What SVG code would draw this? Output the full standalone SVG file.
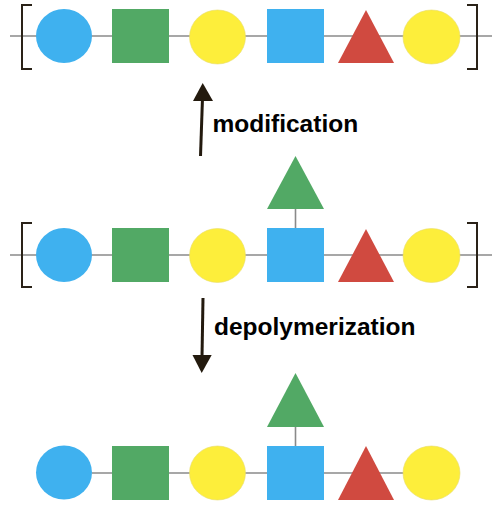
<svg xmlns="http://www.w3.org/2000/svg" width="500" height="517" viewBox="0 0 500 517">
<defs>
<style>
.ln{stroke:#8a8a8a;stroke-width:1.6;fill:none}
.br{stroke:#2a2218;stroke-width:2;fill:none}
.blue{fill:#3fb1ef}
.green{fill:#52a965}
.yellow{fill:#fdee3b;stroke:#e8dc6a;stroke-width:0.6}
.red{fill:#d04a40}
.arr{stroke:#231a0e;stroke-width:3;fill:none}
.head{fill:#231a0e}
.lbl{font-family:"Liberation Sans",Arial,sans-serif;font-weight:bold;font-size:24.5px;fill:#000}
</style>
</defs>
<rect width="500" height="517" fill="#fff"/>
<g id="connectors">
<line class="ln" x1="10" y1="36" x2="492" y2="36"/>
<path class="br" d="M32,5 H22 V69 H32"/>
<path class="br" d="M467,5 H477 V69 H467"/>
<line class="ln" x1="10" y1="255" x2="492" y2="255"/>
<path class="br" d="M32,223 H22 V287 H32"/>
<path class="br" d="M467,223 H477 V287 H467"/>
<line class="ln" x1="295.5" y1="209" x2="295.5" y2="228"/>
<line class="ln" x1="92" y1="473" x2="404" y2="473"/>
<line class="ln" x1="295.5" y1="427" x2="295.5" y2="446"/>
<line class="arr" x1="200.5" y1="156" x2="202.5" y2="98"/>
<path class="head" d="M202.7,83 L213,101 L193,101 Z"/>
<line class="arr" x1="203" y1="298" x2="202" y2="357"/>
<path class="head" d="M201.7,373 L192.5,355 L211.7,355 Z"/>
</g>
<g id="row1">
<ellipse id="r1-blue-circle" class="blue" cx="64" cy="36" rx="28" ry="27"/>
<rect id="r1-green-square" class="green" x="112" y="9" width="57" height="54"/>
<ellipse id="r1-yellow-circle" class="yellow" cx="217.5" cy="37" rx="28" ry="27"/>
<rect id="r1-blue-square" class="blue" x="267" y="9" width="57" height="54"/>
<polygon id="r1-red-triangle" class="red" points="366,10 394,63 338,63"/>
<ellipse id="r1-yellow-circle2" class="yellow" cx="431.5" cy="37" rx="28.5" ry="27"/>
</g>
<g id="row2">
<ellipse id="r2-blue-circle" class="blue" cx="64" cy="255" rx="28" ry="27"/>
<rect id="r2-green-square" class="green" x="112" y="228" width="57" height="54"/>
<ellipse id="r2-yellow-circle" class="yellow" cx="217.5" cy="255.5" rx="28" ry="27"/>
<rect id="r2-blue-square" class="blue" x="267" y="228" width="57" height="54"/>
<polygon id="r2-green-triangle" class="green" points="295.5,156 324,209 267,209"/>
<polygon id="r2-red-triangle" class="red" points="366,229 394,282 338,282"/>
<ellipse id="r2-yellow-circle2" class="yellow" cx="431.5" cy="255.5" rx="28.5" ry="27"/>
</g>
<g id="row3">
<ellipse id="r3-blue-circle" class="blue" cx="64" cy="472.5" rx="28" ry="27"/>
<rect id="r3-green-square" class="green" x="112" y="446" width="57" height="54"/>
<ellipse id="r3-yellow-circle" class="yellow" cx="217.5" cy="473" rx="28" ry="27"/>
<rect id="r3-blue-square" class="blue" x="267" y="446" width="57" height="54"/>
<polygon id="r3-green-triangle" class="green" points="295.5,373 324,427 267,427"/>
<polygon id="r3-red-triangle" class="red" points="366,446 394,500 338,500"/>
<ellipse id="r3-yellow-circle2" class="yellow" cx="431.5" cy="473" rx="28.5" ry="27"/>
</g>
<g id="labels">
<text id="lbl-modification" class="lbl" x="212.5" y="132">modification</text>
<text id="lbl-depolymerization" class="lbl" x="214" y="335">depolymerization</text>
</g>
</svg>
